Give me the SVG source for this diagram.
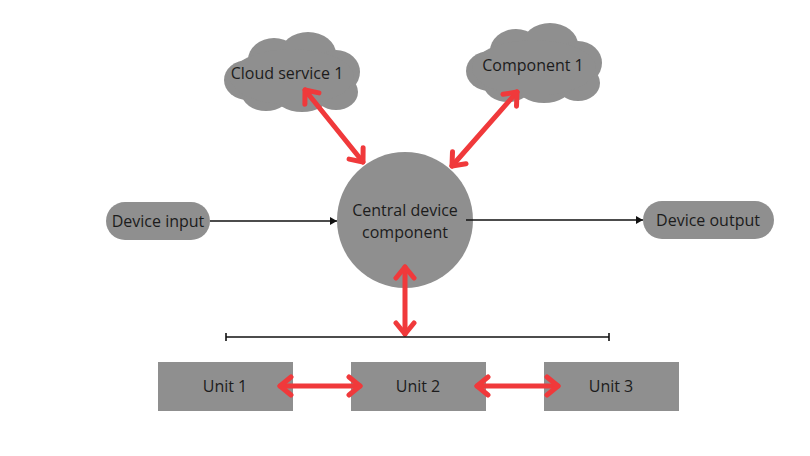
<svg xmlns="http://www.w3.org/2000/svg" width="810" height="456" viewBox="0 0 810 456">
<style>
.shape{fill:#8f8f8f;stroke:none}
.lbl{font-family:"Open Sans","Liberation Sans",sans-serif;font-size:16px;fill:#1c1c1c;text-anchor:middle;dominant-baseline:central}
.red{stroke:#f0393b;stroke-width:5;stroke-linecap:round;fill:none}
.blk{stroke:#111;stroke-width:1.6;fill:none}
</style>
<defs>
<marker id="chev" markerUnits="userSpaceOnUse" viewBox="-16 -12 20 24" markerWidth="20" markerHeight="24" refX="0" refY="0" orient="auto-start-reverse">
<path d="M-11,-9 L0,0 L-11,9" fill="none" stroke="#f0393b" stroke-width="5" stroke-linecap="round" stroke-linejoin="round"/>
</marker>
<marker id="tri" markerUnits="userSpaceOnUse" viewBox="-8 -5 9 10" markerWidth="9" markerHeight="10" refX="0" refY="0" orient="auto">
<path d="M-7,-4 L0,0 L-7,4 Z" fill="#111"/>
</marker>
<g id="cloudShape">
<ellipse cx="26" cy="48" rx="24" ry="20"/>
<ellipse cx="52" cy="28" rx="26" ry="22"/>
<ellipse cx="86" cy="22" rx="28" ry="22"/>
<ellipse cx="114" cy="40" rx="24" ry="22"/>
<ellipse cx="114" cy="60" rx="22" ry="18"/>
<ellipse cx="80" cy="62" rx="28" ry="18"/>
<ellipse cx="44" cy="62" rx="24" ry="17"/>
<ellipse cx="70" cy="45" rx="62" ry="28"/>
</g>
</defs>

<g id="cloud-service-1">
<use href="#cloudShape" class="shape" transform="translate(222,32)" fill="#8f8f8f"/>
<text class="lbl" x="287" y="73">Cloud service 1</text>
</g>
<g id="component-1">
<use href="#cloudShape" class="shape" transform="translate(464,23)" fill="#8f8f8f"/>
<text class="lbl" x="533" y="65">Component 1</text>
</g>
<g id="central">
<circle class="shape" cx="405" cy="220" r="68"/>
<text class="lbl" x="405" y="210">Central device</text>
<text class="lbl" x="405" y="232">component</text>
</g>
<g id="device-input">
<rect class="shape" x="106" y="202" width="104" height="38" rx="19"/>
<text class="lbl" x="158" y="221">Device input</text>
</g>
<g id="device-output">
<rect class="shape" x="643" y="201" width="131" height="38" rx="19"/>
<text class="lbl" x="708" y="220">Device output</text>
</g>
<g id="unit-1">
<rect class="shape" x="158" y="362" width="135" height="49"/>
<text class="lbl" x="225" y="386">Unit 1</text>
</g>
<g id="unit-2">
<rect class="shape" x="351" y="362" width="135" height="49"/>
<text class="lbl" x="418" y="386">Unit 2</text>
</g>
<g id="unit-3">
<rect class="shape" x="544" y="362" width="135" height="49"/>
<text class="lbl" x="611" y="386">Unit 3</text>
</g>

<g id="connectors">
<line class="red" x1="305" y1="90" x2="363" y2="162" marker-start="url(#chev)" marker-end="url(#chev)"/>
<line class="red" x1="517" y1="92" x2="452" y2="166" marker-start="url(#chev)" marker-end="url(#chev)"/>
<line class="red" x1="405" y1="267" x2="405" y2="334" marker-start="url(#chev)" marker-end="url(#chev)"/>
<line class="blk" x1="210" y1="221" x2="337" y2="221" marker-end="url(#tri)"/>
<line class="blk" x1="466" y1="220" x2="643" y2="220" marker-end="url(#tri)"/>
<g id="bus">
<line class="blk" x1="226" y1="337" x2="609" y2="337"/>
<line class="blk" x1="226" y1="333" x2="226" y2="341"/>
<line class="blk" x1="609" y1="333" x2="609" y2="341"/>
</g>
<line class="red" x1="280" y1="386" x2="360" y2="386" marker-start="url(#chev)" marker-end="url(#chev)"/>
<line class="red" x1="477" y1="386" x2="558" y2="386" marker-start="url(#chev)" marker-end="url(#chev)"/>
</g>
</svg>
